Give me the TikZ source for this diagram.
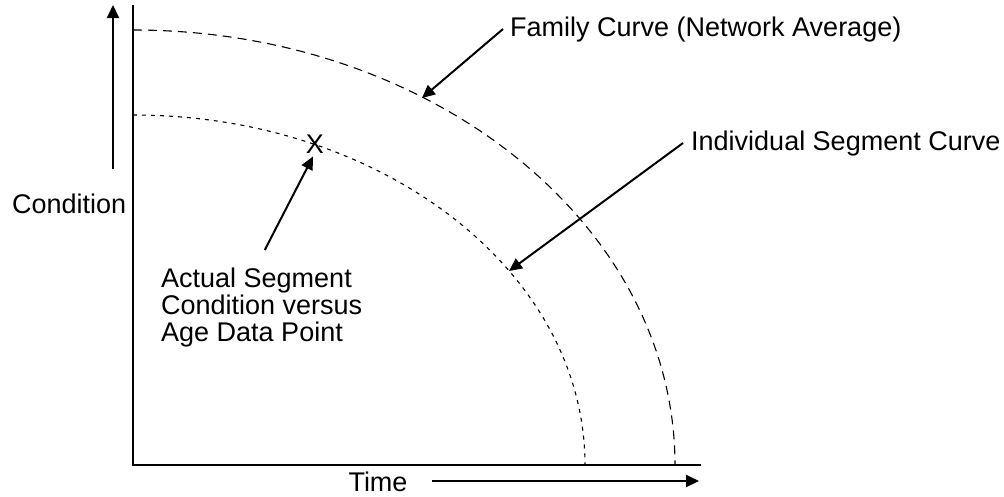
\documentclass[tikz,border=0pt]{standalone}
\usepackage{fontspec}
\setmainfont{Liberation Sans}
\usetikzlibrary{arrows.meta}

\begin{document}
\begin{tikzpicture}[x=1pt, y=-1pt,
  lbl/.style={inner sep=0pt, font=\fontsize{27}{27}\selectfont},
  axis/.style={line width=2pt},
  pointer/.style={line width=2pt, -{Triangle[length=13pt, width=12pt]}},
  familycurve/.style={line width=1.1pt, dash pattern=on 9pt off 6pt},
  segcurve/.style={line width=1.1pt, dash pattern=on 4pt off 5pt}
]
\useasboundingbox (0,0) rectangle (1004,496);

% axes
\coordinate (top) at (133,5);
\coordinate (origin) at (133,465);
\coordinate (right) at (701,465);
\draw[axis] (top) -- (origin) -- (right);

% condition / time direction arrows
\coordinate (cbot) at (113,169);
\coordinate (ctop) at (113,5);
\draw[pointer] (cbot) -- (ctop);
\node[lbl, anchor=base west] (cond) at (12,213) {Condition};

\node[lbl, anchor=base] (time) at (378,491) {Time};
\coordinate (tstart) at (432,481);
\coordinate (tend) at (699,481);
\draw[pointer] (tstart) -- (tend);

% curves: quarter ellipses centred on the origin
\draw[familycurve] (133,30) arc[start angle=90, end angle=0, x radius=542pt, y radius=435pt];
\draw[segcurve] (133,115) arc[start angle=90, end angle=0, x radius=452pt, y radius=350pt];

% data point
\node[lbl] (xmark) at (315,144) {X};

% labels
\node[lbl, anchor=base west] (fam) at (510,36) {Family Curve (Network Average)};
\node[lbl, anchor=base west] (ind) at (691,150) {Individual Segment Curve};
\node[lbl, anchor=north west, align=left] (act) at (161,268)
  {Actual Segment\\Condition versus\\Age Data Point};

% pointers
\coordinate (ftip) at (422,98);
\coordinate (itip) at (509,271);
\draw[pointer] ([xshift=-7pt]fam.west) -- (ftip);
\draw[pointer] ([xshift=-8pt]ind.west) -- (itip);
\draw[pointer] ([xshift=3pt, yshift=18pt]act.north) -- ([xshift=-2pt, yshift=-3pt]xmark.south);
\end{tikzpicture}
\end{document}
